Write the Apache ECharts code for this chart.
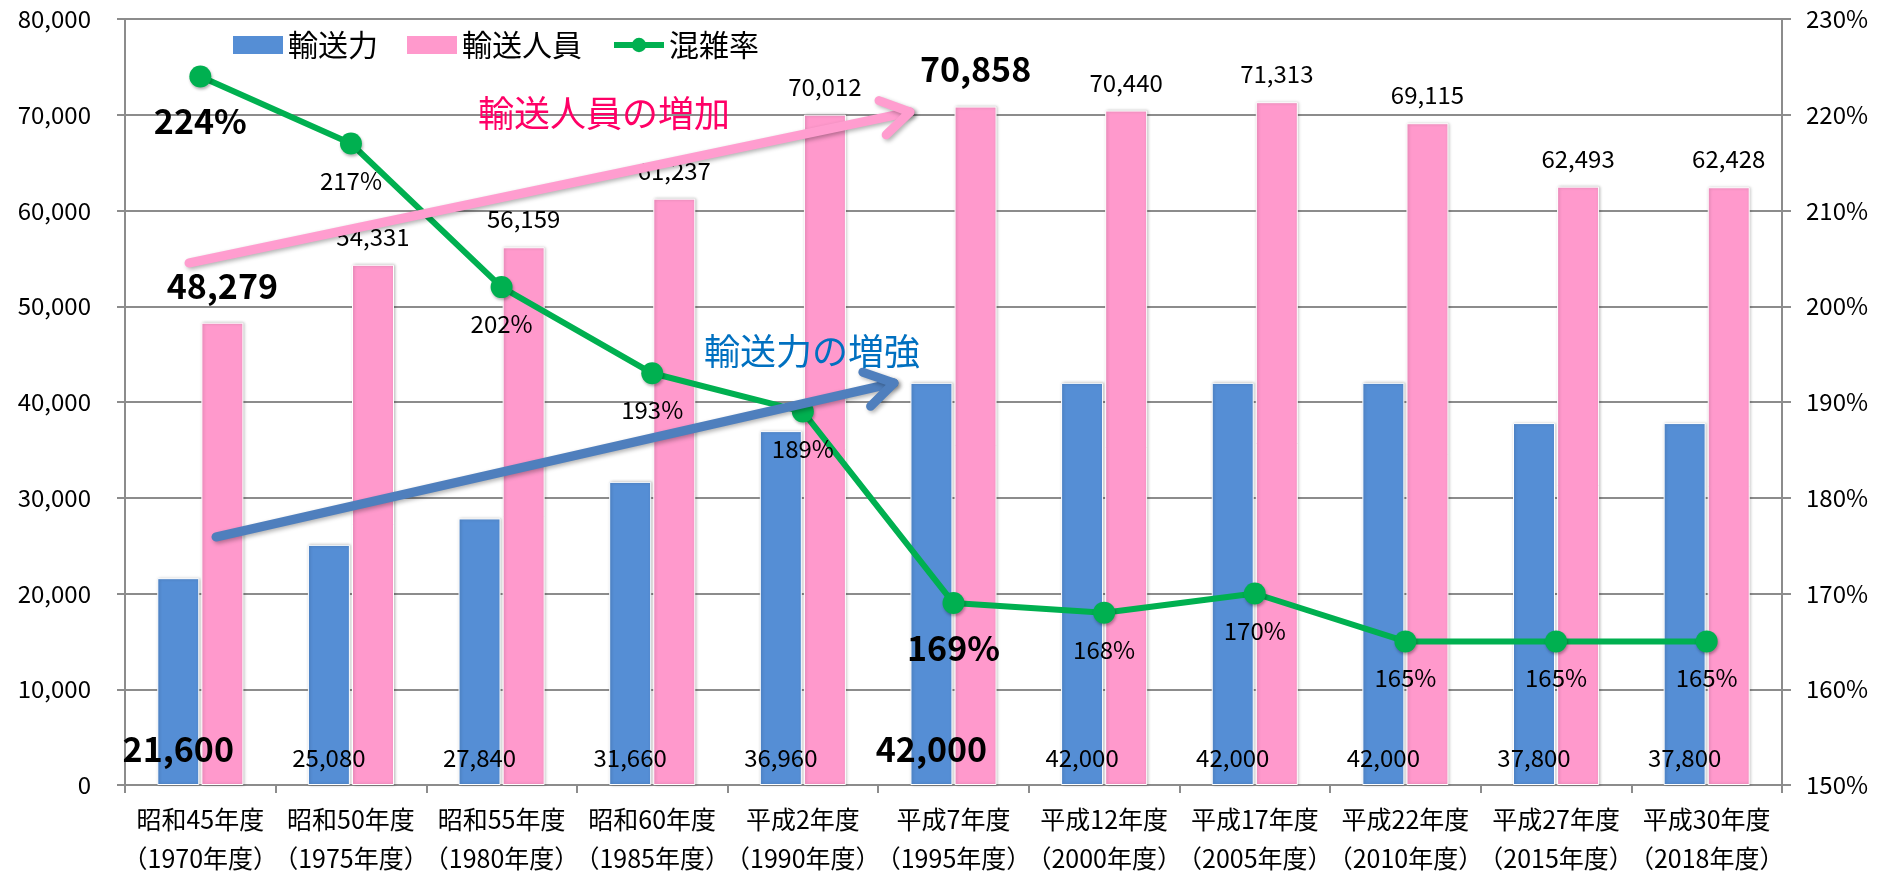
<!DOCTYPE html>
<html>
<head>
<meta charset="utf-8">
<title>輸送力・輸送人員・混雑率</title>
<script src="https://cdn.jsdelivr.net/npm/echarts@6/dist/echarts.min.js"></script>
<style>
  html, body { margin: 0; padding: 0; background: #fff; }
  #chart { width: 1879px; height: 878px; }
</style>
</head>
<body>
<div id="chart"></div>
<script>
// data
var eraLabels = ['昭和45年度', '昭和50年度', '昭和55年度', '昭和60年度', '平成2年度', '平成7年度',
  '平成12年度', '平成17年度', '平成22年度', '平成27年度', '平成30年度'];
var yearLabels = ['（1970年度）', '（1975年度）', '（1980年度）', '（1985年度）', '（1990年度）', '（1995年度）',
  '（2000年度）', '（2005年度）', '（2010年度）', '（2015年度）', '（2018年度）'];
var capacity = [21600, 25080, 27840, 31660, 36960, 42000, 42000, 42000, 42000, 37800, 37800];
var passengers = [48279, 54331, 56159, 61237, 70012, 70858, 70440, 71313, 69115, 62493, 62428];
var congestion = [224, 217, 202, 193, 189, 169, 168, 170, 165, 165, 165];

// points that get the big bold label
var boldIdx = [0, 5];

var BLUE = '#558ED5';
var PINK = '#FF99CC';
var GREEN = '#00B050';
var FONT = "'Noto Sans CJK JP', 'Noto Sans', sans-serif";

var categories = eraLabels.map(function(e, i) { return e + '\n' + yearLabels[i]; });

function withBold(values, bold) {
  return values.map(function(v, i) {
    if (boldIdx.indexOf(i) < 0) return v;
    return { value: v, label: bold };
  });
}

// arrow: shaft + open head, computed from start/end points
function arrow(x1, y1, x2, y2, color) {
  var ang = Math.atan2(y1 - y2, x1 - x2);
  var len = 33, spread = 32 * Math.PI / 180;
  var a1 = [x2 + len * Math.cos(ang + spread), y2 + len * Math.sin(ang + spread)];
  var a2 = [x2 + len * Math.cos(ang - spread), y2 + len * Math.sin(ang - spread)];
  var style = {
    stroke: color, lineWidth: 9, lineCap: 'round', lineJoin: 'round', fill: null,
    shadowBlur: 4, shadowColor: 'rgba(0,0,0,0.3)', shadowOffsetX: 2, shadowOffsetY: 2
  };
  return [
    { type: 'line', z: 100, shape: { x1: x1, y1: y1, x2: x2, y2: y2 }, style: style },
    { type: 'polyline', z: 100, shape: { points: [a1, [x2, y2], a2] }, style: style }
  ];
}

var chart = echarts.init(document.getElementById('chart'));

var option = {
  backgroundColor: '#fff',
  animation: false,
  textStyle: { fontFamily: FONT },
  grid: { left: 125, right: 97, top: 19, bottom: 89 },
  legend: {
    left: 233,
    top: 30,
    padding: 0,
    itemWidth: 50,
    itemHeight: 18,
    itemGap: 29,
    textStyle: { fontSize: 30, color: '#000', fontFamily: FONT },
    data: [
      { name: '輸送力', icon: 'rect', itemStyle: { borderWidth: 0 } },
      { name: '輸送人員', icon: 'rect', itemStyle: { borderWidth: 0 } },
      { name: '混雑率', lineStyle: { width: 6 } }
    ]
  },
  xAxis: {
    type: 'category',
    data: categories,
    axisLine: { lineStyle: { color: '#8c8c8c', width: 2 } },
    axisTick: { show: true, length: 8, lineStyle: { color: '#8c8c8c', width: 2 } },
    axisLabel: { color: '#000', fontSize: 25, lineHeight: 39, margin: 15, interval: 0 }
  },
  yAxis: [
    {
      type: 'value',
      min: 0,
      max: 80000,
      interval: 10000,
      axisLine: { show: true, lineStyle: { color: '#8c8c8c', width: 2 } },
      axisTick: { show: true, length: 8, lineStyle: { color: '#8c8c8c', width: 2 } },
      axisLabel: {
        color: '#000', fontSize: 24, margin: 34,
        formatter: function(v) { return echarts.format.addCommas(v); }
      },
      splitLine: { lineStyle: { color: '#8c8c8c', width: 2 } }
    },
    {
      type: 'value',
      min: 150,
      max: 230,
      interval: 10,
      axisLine: { show: true, lineStyle: { color: '#8c8c8c', width: 2 } },
      axisTick: { show: true, length: 9, lineStyle: { color: '#8c8c8c', width: 2 } },
      axisLabel: { color: '#000', fontSize: 24, margin: 24, formatter: '{value}%' },
      splitLine: { show: false }
    }
  ],
  series: [
    {
      name: '輸送力',
      type: 'bar',
      barWidth: 42,
      barGap: '5%',
      itemStyle: {
        color: BLUE, borderColor: '#fff', borderWidth: 1,
        shadowBlur: 3, shadowColor: 'rgba(0,0,0,0.25)', shadowOffsetX: 1
      },
      label: {
        show: true,
        position: 'insideBottom',
        distance: 15,
        color: '#000',
        fontSize: 24,
        formatter: function(p) { return echarts.format.addCommas(p.value); }
      },
      data: withBold(capacity, { fontSize: 34, fontWeight: 'bold', distance: 19 })
    },
    {
      name: '輸送人員',
      type: 'bar',
      barWidth: 42,
      itemStyle: {
        color: PINK, borderColor: '#fff', borderWidth: 1,
        shadowBlur: 3, shadowColor: 'rgba(0,0,0,0.25)', shadowOffsetX: 1
      },
      label: {
        show: true,
        position: 'top',
        distance: 16,
        color: '#000',
        fontSize: 24,
        formatter: function(p) { return echarts.format.addCommas(p.value); }
      },
      data: withBold(passengers, { fontSize: 34, fontWeight: 'bold', distance: 20 })
    },
    {
      name: '混雑率',
      type: 'line',
      yAxisIndex: 1,
      z: 5,
      symbol: 'circle',
      symbolSize: 22,
      lineStyle: { color: GREEN, width: 6 },
      itemStyle: {
        color: GREEN, shadowBlur: 3, shadowColor: 'rgba(0,0,0,0.3)', shadowOffsetX: 1, shadowOffsetY: 2
      },
      label: {
        show: true,
        position: 'bottom',
        distance: 14,
        color: '#000',
        fontSize: 24,
        formatter: '{c}%'
      },
      data: withBold(congestion, { fontSize: 34, fontWeight: 'bold', distance: 17 })
    }
  ],
  graphic: [].concat(
    arrow(189, 263, 910, 112, '#FF9DCF'),
    arrow(216, 537, 894, 383, '#4F7FBD'),
    [
      {
        type: 'text', z: 100, x: 604, y: 113,
        style: {
          text: '輸送人員の増加', fill: '#FF0066', font: "36px " + FONT,
          textAlign: 'center', textVerticalAlign: 'middle'
        }
      },
      {
        type: 'text', z: 100, x: 812, y: 351,
        style: {
          text: '輸送力の増強', fill: '#0070C0', font: "36px " + FONT,
          textAlign: 'center', textVerticalAlign: 'middle'
        }
      }
    ]
  )
};

chart.setOption(option);
</script>
</body>
</html>
